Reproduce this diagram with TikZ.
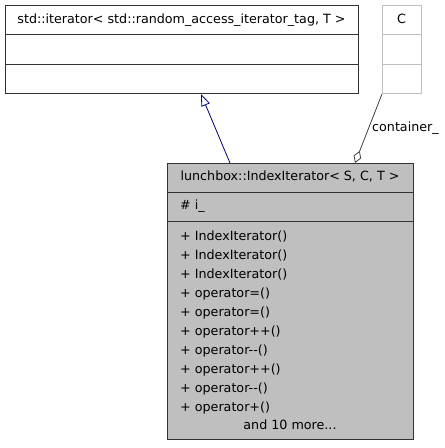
\documentclass[tikz,border=0pt]{standalone}
\usepackage{fontspec}
\setmainfont{DejaVu Sans}
\usetikzlibrary{arrows.meta,calc}
\begin{document}
\begin{tikzpicture}[x=1pt,y=-1pt,
  lbl/.style={font=\fontsize{12.7}{15}\selectfont, inner sep=0pt, text height=9.5pt, text depth=2.5pt},
  gbox/.style={draw=black!80, line width=1pt, inner sep=0pt, anchor=north west},
  cbox/.style={draw=black!25, line width=1pt, inner sep=0pt, anchor=north west},
  inherit/.style={draw=blue!50!black, line width=0.8pt, -{Triangle[open,length=12pt,width=9pt]}},
  member/.style={draw=black!75, line width=0.8pt, {Diamond[open,length=13pt,width=8pt]}-}
]
\useasboundingbox (0,0) rectangle (445,448);
% std::iterator box
\node[gbox, fill=white, minimum width=353pt, minimum height=88pt] (iter) at (5,5) {};
\draw[black!80, line width=1pt] (5,34) -- (358,34) (5,64) -- (358,64);
\node[lbl] (itert) at (181.5,19.5) {std::iterator< std::random\_access\_iterator\_tag, T >};
% C box
\node[cbox, fill=white, minimum width=39pt, minimum height=88pt] (cb) at (382,5) {};
\draw[black!25, line width=1pt] (382,34) -- (421,34) (382,64) -- (421,64);
\node[lbl] (cbt) at (401.5,19.5) {C};
% main box
\node[gbox, fill=black!25, minimum width=246pt, minimum height=276pt] (main) at (167,163) {};
\draw[black!80, line width=1pt] (167,192) -- (413,192) (167,221) -- (413,221);
\node[lbl] (mt) at (290,177) {lunchbox::IndexIterator< S, C, T >};
\node[lbl, anchor=west] (m0) at (180,206) {\# i\_};
\node[lbl, anchor=west] (m1) at (180,237) {+ IndexIterator()};
\node[lbl, anchor=west] (m2) at (180,256) {+ IndexIterator()};
\node[lbl, anchor=west] (m3) at (180,275) {+ IndexIterator()};
\node[lbl, anchor=west] (m4) at (180,294) {+ operator=()};
\node[lbl, anchor=west] (m5) at (180,313) {+ operator=()};
\node[lbl, anchor=west] (m6) at (180,332) {+ operator++()};
\node[lbl, anchor=west] (m7) at (180,351) {+ operator-{}-()};
\node[lbl, anchor=west] (m8) at (180,370) {+ operator++()};
\node[lbl, anchor=west] (m9) at (180,389) {+ operator-{}-()};
\node[lbl, anchor=west] (m10) at (180,408) {+ operator+()};
\node[lbl] (m11) at (290,426) {and 10 more...};
% connectors
\draw[inherit] ($(main.north west)+(63,0)$) -- ($(iter.south west)+(196,0)$);
\draw[member] ($(main.north west)+(188,0)$) -- (cb.south west);
\node[lbl, anchor=west] (cl) at (372,128) {container\_};
\end{tikzpicture}
\end{document}
